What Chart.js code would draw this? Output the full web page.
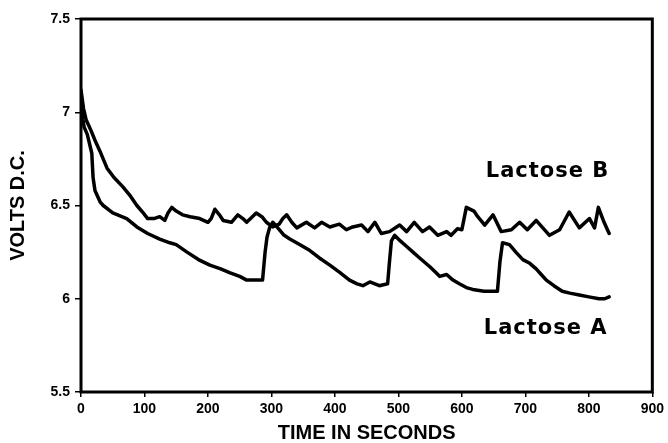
<!DOCTYPE html>
<html>
<head>
<meta charset="utf-8">
<script src="https://cdn.jsdelivr.net/npm/chart.js@4/dist/chart.umd.min.js"></script>
<style>
  html, body { margin: 0; padding: 0; background: #fff; }
  #wrap { width: 668px; height: 443px; position: relative; }
</style>
</head>
<body>
<div id="wrap"><canvas id="c" width="668" height="443"></canvas></div>
<script>
// ---- Data ----
const xTickValues = [0, 100, 200, 300, 400, 500, 600, 700, 800, 900];
const yTickValues = [5.5, 6, 6.5, 7, 7.5];

const seriesNames = ['Lactose A', 'Lactose B'];

const lactoseATime = [0, 3, 5, 10, 17, 19, 22, 30, 35, 50, 72, 88, 105, 124, 140, 150, 167, 185, 203, 220, 234, 250, 261, 275, 286, 290, 293, 297, 302, 310, 320, 329, 345, 360, 375, 392, 408, 423, 435, 444, 455, 470, 483, 486, 489, 494, 503, 513, 523, 533, 550, 565, 576, 586, 596, 607, 617, 635, 656, 660, 664, 675, 685, 696, 707, 717, 725, 733, 745, 758, 770, 785, 800, 816, 825, 832];
const lactoseAVolts = [7.1, 6.96, 6.92, 6.88, 6.78, 6.65, 6.58, 6.52, 6.50, 6.46, 6.43, 6.385, 6.35, 6.32, 6.30, 6.29, 6.25, 6.21, 6.18, 6.16, 6.14, 6.12, 6.10, 6.10, 6.10, 6.25, 6.33, 6.38, 6.41, 6.38, 6.34, 6.32, 6.29, 6.26, 6.22, 6.18, 6.14, 6.10, 6.08, 6.07, 6.09, 6.07, 6.08, 6.20, 6.31, 6.34, 6.31, 6.28, 6.25, 6.22, 6.17, 6.12, 6.13, 6.10, 6.08, 6.06, 6.05, 6.04, 6.04, 6.20, 6.30, 6.29, 6.25, 6.21, 6.19, 6.16, 6.13, 6.10, 6.07, 6.04, 6.03, 6.02, 6.01, 6.00, 6.00, 6.01];

const lactoseBTime = [0, 4, 8, 12, 16, 22, 30, 41, 52, 66, 78, 88, 98, 105, 115, 124, 132, 137, 143, 150, 160, 172, 187, 200, 205, 211, 218, 224, 237, 247, 255, 261, 276, 285, 292, 302, 312, 318, 324, 332, 340, 355, 368, 379, 392, 407, 418, 428, 442, 452, 463, 473, 486, 502, 513, 525, 538, 549, 562, 576, 583, 593, 600, 607, 619, 625, 636, 649, 662, 678, 691, 703, 717, 738, 754, 769, 785, 801, 809, 815, 824, 832];
const lactoseBVolts = [7.12, 7.02, 6.96, 6.93, 6.90, 6.85, 6.79, 6.70, 6.65, 6.60, 6.55, 6.50, 6.46, 6.43, 6.43, 6.44, 6.42, 6.46, 6.49, 6.47, 6.45, 6.44, 6.43, 6.41, 6.43, 6.48, 6.45, 6.42, 6.41, 6.45, 6.43, 6.41, 6.46, 6.44, 6.41, 6.385, 6.40, 6.43, 6.45, 6.41, 6.38, 6.41, 6.38, 6.41, 6.385, 6.40, 6.37, 6.385, 6.395, 6.36, 6.41, 6.35, 6.36, 6.395, 6.36, 6.41, 6.36, 6.385, 6.34, 6.36, 6.34, 6.375, 6.37, 6.49, 6.47, 6.44, 6.395, 6.45, 6.36, 6.37, 6.41, 6.37, 6.42, 6.34, 6.37, 6.465, 6.38, 6.43, 6.38, 6.49, 6.41, 6.35];

// in-plot label anchors (data coordinates)
const labelTimes = [732, 735];
const labelVolts = [5.84, 6.68];

const toPoints = (xs, ys) => xs.map((x, i) => ({ x: x, y: ys[i] }));

const frame = {
  id: 'frame',
  afterDatasetsDraw(chart) {
    const { ctx, chartArea: a } = chart;
    ctx.save();
    ctx.strokeStyle = '#000';
    ctx.lineWidth = 3;
    ctx.strokeRect(a.left, a.top, a.right - a.left, a.bottom - a.top);
    ctx.restore();
  }
};

const seriesLabels = {
  id: 'seriesLabels',
  afterDatasetsDraw(chart) {
    const { ctx, scales } = chart;
    ctx.save();
    ctx.fillStyle = '#000';
    ctx.font = 'bold 21px "DejaVu Sans"';
    try { ctx.letterSpacing = '1px'; } catch (e) {}
    ctx.textAlign = 'center';
    ctx.textBaseline = 'middle';
    seriesNames.forEach((n, i) => {
      ctx.fillText(n, scales.x.getPixelForValue(labelTimes[i]), scales.y.getPixelForValue(labelVolts[i]));
    });
    ctx.restore();
  }
};

const tickFont = { family: '"Liberation Sans", Arial, sans-serif', size: 14, weight: 'bold' };
const titleFont = { family: '"Liberation Sans", Arial, sans-serif', size: 20, weight: 'bold', lineHeight: 1 };

new Chart(document.getElementById('c'), {
  type: 'line',
  data: {
    datasets: [
      { label: seriesNames[0], data: toPoints(lactoseATime, lactoseAVolts), borderColor: '#000', borderWidth: 3.5, pointRadius: 0, tension: 0, fill: false, borderJoinStyle: 'round', borderCapStyle: 'round' },
      { label: seriesNames[1], data: toPoints(lactoseBTime, lactoseBVolts), borderColor: '#000', borderWidth: 3.5, pointRadius: 0, tension: 0, fill: false, borderJoinStyle: 'round', borderCapStyle: 'round' }
    ]
  },
  options: {
    responsive: false,
    animation: false,
    events: [],
    layout: { padding: { top: 19, right: 15, bottom: 0, left: 0 } },
    plugins: { legend: { display: false }, tooltip: { enabled: false } },
    scales: {
      x: {
        type: 'linear',
        min: 0, max: 900,
        afterBuildTicks: (s) => { s.ticks = xTickValues.map(v => ({ value: v })); },
        afterFit: (s) => { s.height = 51; },
        grid: { display: true, drawOnChartArea: false, drawTicks: true, tickLength: 5, color: '#000', lineWidth: 1.5 },
        border: { display: false },
        ticks: { color: '#000', font: tickFont, padding: 4, maxRotation: 0, autoSkip: false, callback: (v) => String(v) },
        title: { display: true, text: 'TIME IN SECONDS', color: '#000', font: titleFont, padding: { top: 0, bottom: 0 } }
      },
      y: {
        type: 'linear',
        min: 5.5, max: 7.5,
        afterBuildTicks: (s) => { s.ticks = yTickValues.map(v => ({ value: v })); },
        afterFit: (s) => { s.width = 81; },
        grid: { display: true, drawOnChartArea: false, drawTicks: true, tickLength: 6, color: '#000', lineWidth: 1.5 },
        border: { display: false },
        ticks: { color: '#000', font: tickFont, padding: 5, autoSkip: false, callback: (v) => String(v) },
        title: { display: true, text: 'VOLTS D.C.', color: '#000', font: titleFont, padding: { top: 8, bottom: 0 } }
      }
    }
  },
  plugins: [frame, seriesLabels]
});
</script>
</body>
</html>
